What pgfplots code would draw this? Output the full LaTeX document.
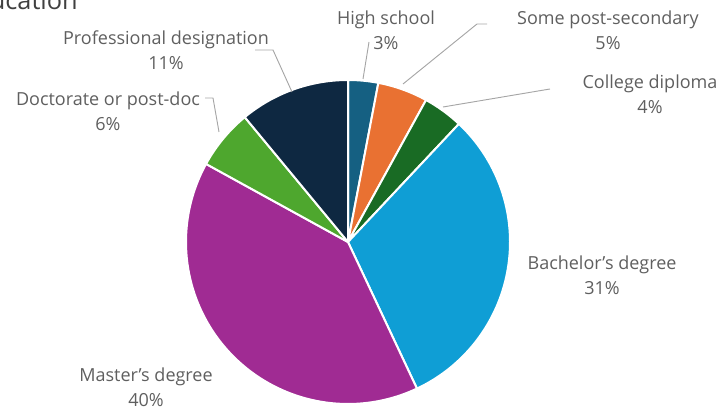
\documentclass[border=0pt]{standalone}
\usepackage{fontspec}
\setmainfont{Open Sans}
\usepackage{pgfplots}
\pgfplotsset{compat=1.18}
\definecolor{cHS}{HTML}{156082}
\definecolor{cSPS}{HTML}{E97132}
\definecolor{cCD}{HTML}{196B24}
\definecolor{cBD}{HTML}{0F9ED5}
\definecolor{cMD}{HTML}{A02B93}
\definecolor{cDD}{HTML}{4EA72E}
\definecolor{cPD}{HTML}{0E2841}
\definecolor{lbl}{HTML}{5F5F5F}
\definecolor{lead}{HTML}{A6A6A6}
\tikzset{lab/.style={text=lbl, align=center, inner sep=0pt, font=\fontsize{13.5}{18.5}\selectfont}}
\begin{document}
\begin{tikzpicture}
\begin{axis}[
  at={(0,0)}, anchor=south west,
  width=542.25pt, height=306.75pt, scale only axis,
  xmin=0, xmax=723, ymin=0, ymax=409,
  hide axis, clip=false,
]
% pie: share in percent, clockwise from 12 o'clock
\gdef\start{90}
\pgfplotsforeachungrouped \v/\c in {3/cHS,5/cSPS,4/cCD,31/cBD,40/cMD,6/cDD,11/cPD} {
  \pgfmathsetmacro\stop{\start-3.6*\v}
  \edef\temp{\noexpand\addplot[fill=\c, draw=white, line width=1.5pt, line join=round,
     domain=\stop:\start, samples=80, variable=\noexpand\t]
     ({348+162*cos(\noexpand\t)},{167+162*sin(\noexpand\t)}) -- (axis cs:348,167) -- cycle;}
  \temp
  \global\let\start\stop
}
% leader lines
\addplot[lead, line width=0.7pt] coordinates {(363,330) (369,367)};
\addplot[lead, line width=0.7pt] coordinates {(403,325) (477,385) (487,385)};
\addplot[lead, line width=0.7pt] coordinates {(443,302) (550,320)};
\addplot[lead, line width=0.7pt] coordinates {(292,317) (273,359) (255,359)};
\addplot[lead, line width=0.7pt] coordinates {(219,277) (213,311) (205,311)};
% labels
\node[lab] at (axis cs:386,378.5) {High school\\3\%};
\node[lab] at (axis cs:608,379) {Some post-secondary\\5\%};
\node[lab] at (axis cs:650,314.5) {College diploma\\4\%};
\node[lab] at (axis cs:602,134) {Bachelor's degree\\31\%};
\node[lab] at (axis cs:146,22) {Master's degree\\40\%};
\node[lab] at (axis cs:108,298) {Doctorate or post-doc\\6\%};
\node[lab] at (axis cs:166,358.5) {Professional designation\\11\%};
\node[anchor=base east, inner sep=0pt, text=black!75, font=\fontsize{19}{22}\selectfont] at (axis cs:78,399) {Education};
\end{axis}
\pgfresetboundingbox
\path[use as bounding box] (0,0) rectangle (542.25pt,306.75pt);
\end{tikzpicture}
\end{document}
